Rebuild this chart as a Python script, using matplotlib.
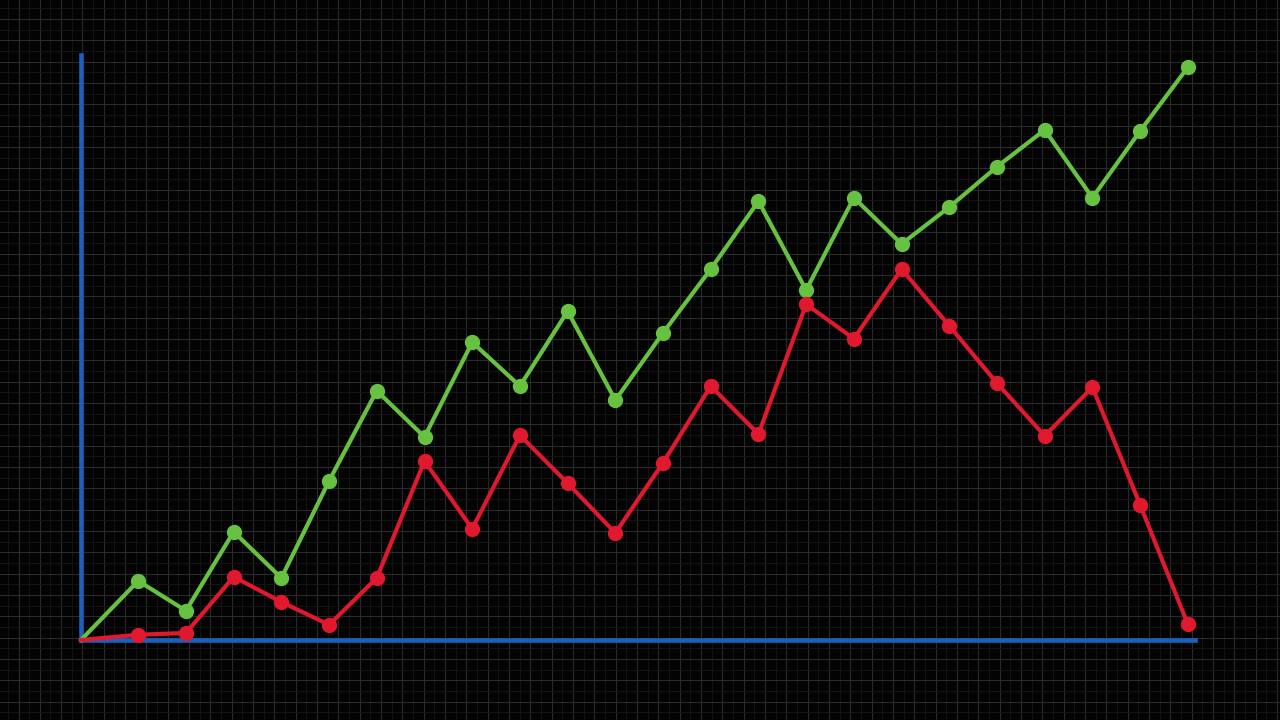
import numpy as np
import matplotlib
matplotlib.use("Agg")
import matplotlib.pyplot as plt

# x positions of the points (first one is the origin)
x_vals = [0, 1.2, 2.2, 3.2, 4.2, 5.2, 6.2, 7.2, 8.2, 9.2, 10.2, 11.2,
          12.2, 13.2, 14.2, 15.2, 16.2, 17.2, 18.2, 19.2, 20.2, 21.2, 22.2, 23.2]

green_vals = [0, 10.1, 5.0, 18.5, 10.6, 27.2, 42.6, 34.7, 50.9, 43.4, 56.2, 41.0,
              52.5, 63.4, 75.0, 59.8, 75.6, 67.7, 74.0, 80.9, 87.2, 75.6, 87.0, 97.9]

red_vals = [0, 0.9, 1.2, 10.8, 6.5, 2.6, 10.6, 30.6, 19.0, 35.0, 26.8, 18.3,
            30.3, 43.4, 35.2, 57.4, 51.5, 63.4, 53.7, 43.9, 34.9, 43.2, 23.1, 2.7]

bg = "#030303"
blue = "#1b5fbf"
green = "#66c240"
red = "#e0192e"

fig = plt.figure(figsize=(12.8, 7.2), dpi=100, facecolor=bg)

# background grid over the whole picture
ax_bg = fig.add_axes([0, 0, 1, 1])
ax_bg.set_facecolor(bg)
ax_bg.set_xlim(0, 1280)
ax_bg.set_ylim(720, 0)
step = 1280 / 60
ax_bg.set_xticks(np.arange(18.5, 1280, step))
ax_bg.set_yticks(np.arange(19.0, 720, step))
ax_bg.set_xticks(np.arange(18.5 - step / 2, 1280, step), minor=True)
ax_bg.set_yticks(np.arange(19.0 - step / 2, 720, step), minor=True)
ax_bg.grid(which="major", color="#2a2a2a", linewidth=0.8)
ax_bg.grid(which="minor", color="#141414", linewidth=0.7)
ax_bg.tick_params(which="both", length=0, labelbottom=False, labelleft=False)
for s in ax_bg.spines.values():
    s.set_visible(False)

# main chart
ax = fig.add_axes([81 / 1280, 80 / 720, (1195 - 81) / 1280, (640 - 55) / 720])
ax.patch.set_alpha(0)
ax.set_xlim(0, 23.35)
ax.set_ylim(0, 100)

ax.plot(x_vals, green_vals, color=green, lw=3, marker="o", ms=10,
        markevery=list(range(1, len(x_vals))), clip_on=False, zorder=3)
ax.plot(x_vals, red_vals, color=red, lw=3, marker="o", ms=10,
        markevery=list(range(1, len(x_vals))), clip_on=False, zorder=4)

ax.spines["top"].set_visible(False)
ax.spines["right"].set_visible(False)
for side in ["left", "bottom"]:
    ax.spines[side].set_color(blue)
    ax.spines[side].set_linewidth(3.3)
    ax.spines[side].set_zorder(2)
ax.set_xticks([])
ax.set_yticks([])

fig.savefig("out.png", dpi=100, facecolor=bg)
